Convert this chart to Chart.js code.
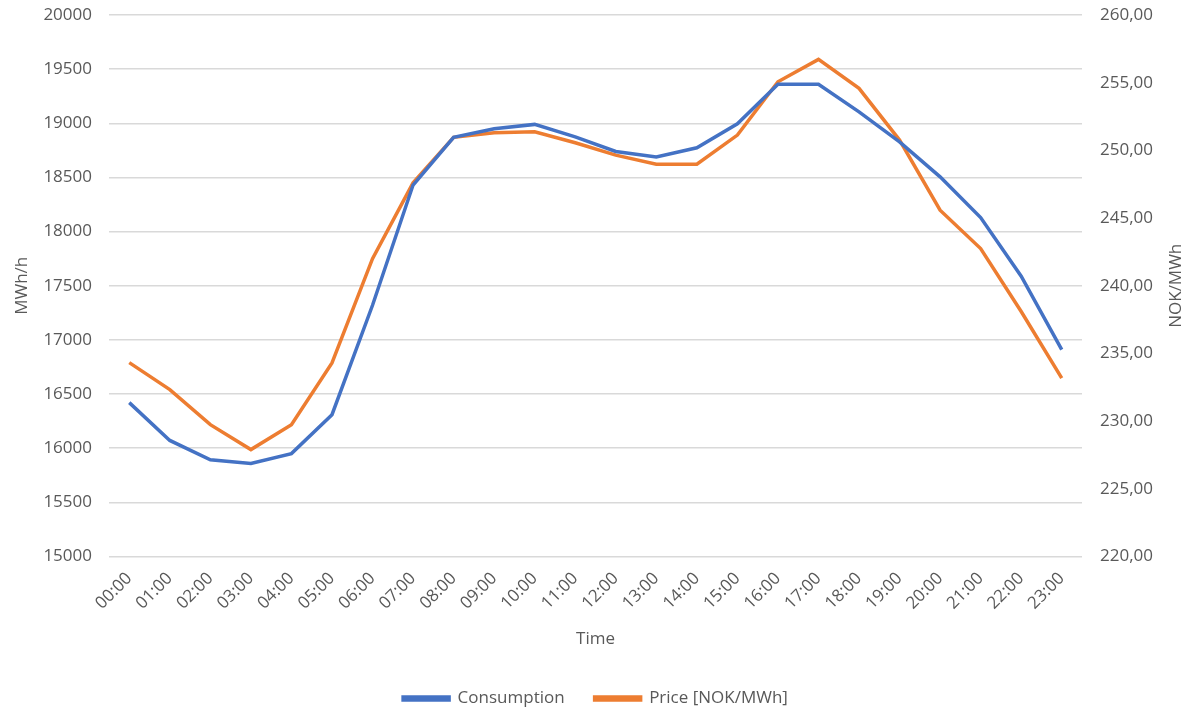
<!DOCTYPE html>
<html>
<head>
<meta charset="utf-8">
<script src="https://cdn.jsdelivr.net/npm/chart.js@4"></script>
<style>
  html, body { margin: 0; padding: 0; background: #fff; }
  #wrap { width: 1191px; height: 710px; }
</style>
</head>
<body>
<div id="wrap"><canvas id="chart" width="1191" height="710"></canvas></div>
<script>
const hours = ["00:00","01:00","02:00","03:00","04:00","05:00","06:00","07:00","08:00","09:00","10:00","11:00",
  "12:00","13:00","14:00","15:00","16:00","17:00","18:00","19:00","20:00","21:00","22:00","23:00"];

// MWh/h
const consumption = [16421, 16072, 15893, 15860, 15950, 16310, 17320, 18430, 18870, 18950, 18990, 18875,
  18740, 18690, 18774, 18995, 19360, 19360, 19106, 18829, 18506, 18130, 17588, 16910];

// NOK/MWh
const price = [234.32, 232.33, 229.74, 227.90, 229.74, 234.30, 242.00, 247.60, 250.96, 251.30, 251.37, 250.56,
  249.65, 248.98, 248.98, 251.13, 255.07, 256.72, 254.58, 250.76, 245.58, 242.75, 238.10, 233.18];

const rightTitle = "NOK/MWh";

const textColor = "#595959";
const gridColor = "#d9d9d9";
const font = { family: "'Open Sans', sans-serif", size: 17 };

// right axis title reads bottom-to-top like the left one
const rightTitlePlugin = {
  id: "rightTitle",
  afterDraw(chart) {
    const c = chart.ctx;
    const area = chart.chartArea;
    c.save();
    c.translate(1176, (area.top + area.bottom) / 2);
    c.rotate(-Math.PI / 2);
    c.fillStyle = textColor;
    c.font = "17px 'Open Sans', sans-serif";
    c.textAlign = "center";
    c.textBaseline = "middle";
    c.fillText(rightTitle, 0, 0);
    c.restore();
  }
};

// fixed width, no extra top/bottom overflow padding
const fitY = s => { s.width = 109; s.paddingTop = 0; s.paddingBottom = 0; };

const ctx = document.getElementById("chart").getContext("2d");
new Chart(ctx, {
  type: "line",
  data: {
    labels: hours,
    datasets: [
      {
        label: "Consumption",
        data: consumption,
        yAxisID: "y",
        borderColor: "#4472C4",
        backgroundColor: "#4472C4",
        borderWidth: 3.5,
        pointRadius: 0,
        tension: 0
      },
      {
        label: "Price [NOK/MWh]",
        data: price,
        yAxisID: "y2",
        borderColor: "#ED7D31",
        backgroundColor: "#ED7D31",
        borderWidth: 3.5,
        pointRadius: 0,
        tension: 0
      }
    ]
  },
  plugins: [rightTitlePlugin],
  options: {
    responsive: false,
    animation: false,
    layout: { padding: { top: 15, bottom: -7 } },
    plugins: {
      tooltip: { enabled: false },
      legend: {
        position: "bottom",
        labels: {
          color: textColor,
          font: font,
          boxWidth: 46,
          boxHeight: 3,
          padding: 30
        }
      }
    },
    scales: {
      x: {
        offset: true,
        grid: { display: false },
        border: { display: false },
        ticks: { color: textColor, font: font, minRotation: 45, maxRotation: 45, padding: 4 },
        title: { display: true, text: "Time", color: textColor, font: font, padding: { top: 11, bottom: 11 } }
      },
      y: {
        position: "left",
        min: 15000,
        max: 20000,
        ticks: { stepSize: 500, color: textColor, font: font, padding: 17, callback: v => String(v) },
        grid: { color: gridColor, lineWidth: 1.5, drawTicks: false },
        border: { display: false },
        title: { display: true, text: "MWh/h", color: textColor, font: font, padding: { top: 12, bottom: 0 } },
        afterFit: fitY
      },
      y2: {
        position: "right",
        min: 220,
        max: 260,
        ticks: {
          stepSize: 5,
          color: textColor,
          font: font,
          padding: 18,
          callback: v => v.toFixed(2).replace(".", ",")
        },
        grid: { drawOnChartArea: false, drawTicks: false },
        border: { display: false },
        afterFit: fitY
      }
    }
  }
});
</script>
</body>
</html>
